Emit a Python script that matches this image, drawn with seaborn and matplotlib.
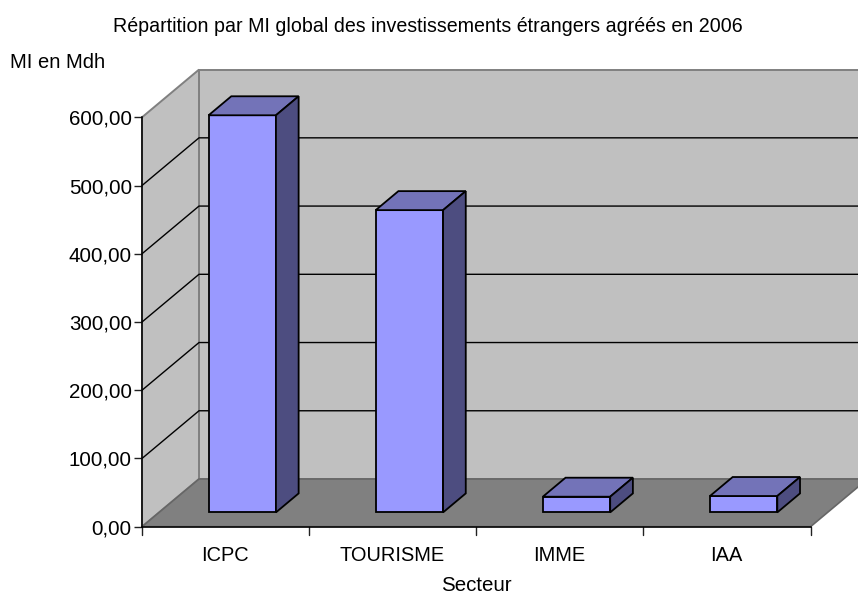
import matplotlib
matplotlib.use("Agg")
import matplotlib.pyplot as plt
import seaborn as sns
import pandas as pd
from matplotlib.patches import Polygon
from matplotlib.transforms import Affine2D

sectors = ["ICPC", "TOURISME", "IMME", "IAA"]
values = [582, 443, 23, 24]
y_ticks = [0, 100, 200, 300, 400, 500, 600]
y_labels = ["0,00", "100,00", "200,00", "300,00", "400,00", "500,00", "600,00"]
title = "Répartition par MI global des investissements étrangers agréés en 2006"
y_title = "MI en Mdh"
x_title = "Secteur"

W, H = 858, 595
sns.set_theme(style="white")
plt.rcParams["font.family"] = ["Liberation Sans", "DejaVu Sans"]
fig = plt.figure(figsize=(W / 100, H / 100), dpi=100, facecolor="white")
ax = fig.add_axes([142 / W, (H - 526.7) / H, 668.5 / W, 409.4 / H])
ax.set_zorder(4)

df = pd.DataFrame({"Secteur": sectors, "MI": values})
sns.barplot(data=df, x="Secteur", y="MI", ax=ax, color="#9999FF", saturation=1,
            width=0.403, edgecolor="black", linewidth=1.3, zorder=5)
ax.set_xlim(-0.5, 3.5)
ax.set_ylim(0, 600)
ax.set_yticks(y_ticks, y_labels)
ax.set_xticks([])
ax.set_xlabel("")
ax.set_ylabel("")
ax.patch.set_visible(False)
for s in ["top", "right"]:
    ax.spines[s].set_visible(False)
for s in ["left", "bottom"]:
    ax.spines[s].set_color("black")
    ax.spines[s].set_linewidth(1.1)
ax.tick_params(axis="y", left=True, length=5.8, width=1, color="#222222", labelsize=14.8, pad=1.5, labelcolor="black")

# Depth of the chart box and of the bars, in pixels
BOX_DX, BOX_DY = 57, 47.7
BAR_DX, BAR_DY = 22.7, 19
OFF_DX, OFF_DY = 16.7, 14.3

def px(x, y):
    return ax.transData.transform((x, y))

def poly(points, **kw):
    p = Polygon(points, closed=True, clip_on=False, **kw)
    p.set_transform(Affine2D())
    fig.add_artist(p)
    return p

x0, x1 = ax.get_xlim()
bl, br = px(x0, 0), px(x1, 0)
tl = px(x0, 600)
d = (BOX_DX, BOX_DY)
WALL = "#C0C0C0"
GRID = "#808080"
# far wall, side wall, floor (clipped by the figure edge)
poly([bl + d, (W + 20, bl[1] + d[1]), (W + 20, tl[1] + d[1]), tl + d], facecolor=WALL, edgecolor=GRID, linewidth=1.4, zorder=1)
poly([bl, bl + d, tl + d, tl], facecolor=WALL, edgecolor=GRID, linewidth=1.4, zorder=1)
poly([bl, br, br + d, bl + d], facecolor=GRID, edgecolor="#666666", linewidth=1.2, zorder=2)

# grid lines on both walls
for t in y_ticks[1:-1]:
    a = px(x0, t)
    b = a + d
    fig.add_artist(plt.Line2D([a[0], b[0], W], [a[1], b[1], b[1]], transform=Affine2D(), color="black", linewidth=1, zorder=3))
# bottom ticks at category boundaries
for i in range(len(sectors) + 1):
    a = px(x0 + i, 0)
    fig.add_artist(plt.Line2D([a[0], a[0]], [a[1], a[1] - 8], transform=Affine2D(), color="#222222", linewidth=1, zorder=3))

# move bars into the box and add top and side faces
fig.canvas.draw()
for bar in ax.patches:
    lo = px(bar.get_x(), 0) + (OFF_DX, OFF_DY)
    hi = px(bar.get_x() + bar.get_width(), bar.get_height()) + (OFF_DX, OFF_DY)
    e = (BAR_DX, BAR_DY)
    poly([lo, (hi[0], lo[1]), hi, (lo[0], hi[1])], facecolor="#9999FF", edgecolor="black", linewidth=1.3, zorder=6)
    poly([(lo[0], hi[1]), hi, hi + e, (lo[0] + e[0], hi[1] + e[1])], facecolor="#7373B8", edgecolor="black", linewidth=1.3, zorder=6)
    poly([(hi[0], lo[1]), (hi[0] + e[0], lo[1] + e[1]), hi + e, hi], facecolor="#4D4D80", edgecolor="black", linewidth=1.3, zorder=6)
    bar.set_visible(False)

for i, s in enumerate(sectors):
    ax.annotate(s, xy=(i, 0), xytext=(-1, -19), textcoords="offset pixels", ha="center", va="top", fontsize=14.4, color="black", annotation_clip=False)

fig.text(428 / W, 1 - 26 / H, title, ha="center", va="center", fontsize=14.1, color="black")
fig.text(57.5 / W, 1 - 62 / H, y_title, ha="center", va="center", fontsize=14.5, color="black")
fig.text(476.5 / W, 1 - 585.5 / H, x_title, ha="center", va="center", fontsize=14.8, color="black")

fig.savefig("out.png", dpi=100)
